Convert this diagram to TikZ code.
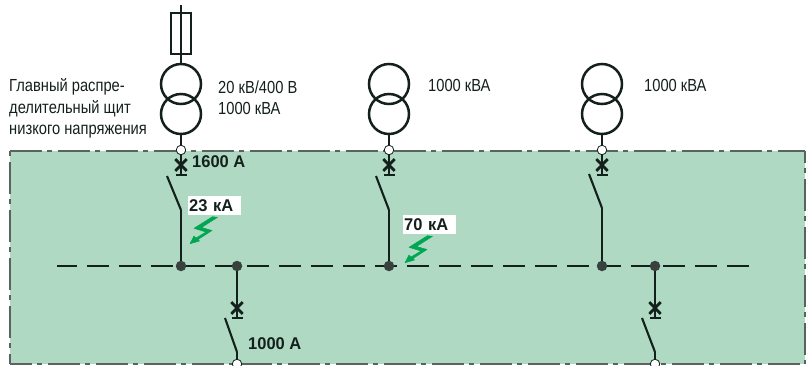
\documentclass[tikz,border=0pt]{standalone}
\usepackage{fontspec}
\setmainfont[FakeStretch=0.84, BoldFeatures={FakeStretch=0.97}]{Liberation Sans}
\usetikzlibrary{shapes.misc}
\definecolor{panelgreen}{HTML}{B0D9C4}
\definecolor{flashgreen}{HTML}{00A651}
\definecolor{linedark}{HTML}{14201C}
\tikzset{
  bus dot/.style={circle, fill=linedark!85, inner sep=0pt, minimum size=10.5pt},
  open dot/.style={circle, draw=linedark, fill=white, line width=0.8pt, inner sep=0pt, minimum size=9.5pt},
  trip cross/.style={cross out, draw=linedark, line width=2.8pt, inner sep=0pt, minimum width=8.5pt, minimum height=9pt},
  trip bar/.style={rectangle, fill=linedark, inner sep=0pt, minimum width=11pt, minimum height=2.6pt},
  wire/.style={draw=linedark, line width=2.5pt},
  blade/.style={draw=linedark, line width=2.1pt},
  winding/.style={circle, draw=linedark, line width=2.5pt, inner sep=0pt, minimum size=40pt},
  rating/.style={font=\fontsize{17}{21.5}\selectfont\bfseries, inner sep=0pt, anchor=west, text=linedark},
  isc box/.style={rating, fill=white, text width=51pt, align=left, minimum height=19pt, inner xsep=1pt},
  note/.style={font=\fontsize{17.5}{21.5}\selectfont, inner sep=0pt, anchor=west, align=left, text=linedark},
  frame/.style={draw=linedark!70, line width=1.3pt, dash pattern=on 32pt off 5pt on 5pt off 6pt},
  flash/.style={fill=flashgreen, draw=flashgreen, line width=0.5pt, line join=round},
}
\begin{document}
\begin{tikzpicture}[x=1pt, y=-1pt]
      \useasboundingbox (0,0) rectangle (811,365);

      \path[fill=panelgreen] (10,151) rectangle (805,364);
      \draw[frame] (10,151) -- (805,151);
      \draw[frame, dash phase=37pt] (10,151) -- (10,364);
      \draw[frame, dash phase=20pt] (805,151) -- (805,364);
      \draw[frame, dash phase=10pt] (10,364) -- (805,364);

      % fuse
      \coordinate (top) at (181,5);
      \node[draw=linedark, line width=2.5pt, minimum width=20pt, minimum height=41pt, inner sep=0pt] (fuse) at (181,33.5) {};

      % transformers
      \node[winding] (t1a) at (181,84)  {};
      \node[winding] (t1b) at (181,114) {};
      \node[winding] (t2a) at (389,84)  {};
      \node[winding] (t2b) at (389,114) {};
      \node[winding] (t3a) at (602,84)  {};
      \node[winding] (t3b) at (602,114) {};

      \node[trip cross] (x1) at (181,165) {};
      \node[trip cross] (x2) at (389,165) {};
      \node[trip cross] (x3) at (602,165) {};
      \node[trip cross] (x4) at (237,308) {};
      \node[trip cross] (x5) at (655,308) {};

      \node[trip bar] (b1) at (181,175) {};
      \node[trip bar] (b2) at (389,175) {};
      \node[trip bar] (b3) at (602,175) {};
      \node[trip bar] (b4) at (237,318) {};
      \node[trip bar] (b5) at (655,318) {};

      \coordinate (s1a) at (167,176);
      \coordinate (s1b) at (181,210);
      \coordinate (s2a) at (376,176);
      \coordinate (s2b) at (389,210);
      \coordinate (s3a) at (589,174);
      \coordinate (s3b) at (602,208);
      \coordinate (s4a) at (225,318);
      \coordinate (s4b) at (237,352);
      \coordinate (s5a) at (642,318);
      \coordinate (s5b) at (655,352);

      % bus
      \coordinate (busl) at (57,266);
      \coordinate (busr) at (749,266);
      \draw[draw=linedark, line width=2.5pt, dash pattern=on 22pt off 10pt, dash phase=2pt] (busl) -- (busr);

      \node[bus dot] (j1) at (181,266) {};
      \node[bus dot] (j2) at (237,266) {};
      \node[bus dot] (j3) at (389,266) {};
      \node[bus dot] (j4) at (602,266) {};
      \node[bus dot] (j5) at (655,266) {};

      \draw[wire] (top) -- (fuse.north);
      \draw[wire] (fuse.north) -- (fuse.south);
      \draw[wire] (fuse.south) -- (t1a);

      \coordinate (e1) at (181,150);
      \coordinate (e2) at (389,150);
      \coordinate (e3) at (602,150);
      \draw[wire] (t1b) -- (e1);
      \draw[wire] (t2b) -- (e2);
      \draw[wire] (t3b) -- (e3);

      \node[open dot] (in1) at (e1) {};
      \node[open dot] (in2) at (e2) {};
      \node[open dot] (in3) at (e3) {};

      \draw[wire] (in1) -- (b1);
      \draw[wire] (in2) -- (b2);
      \draw[wire] (in3) -- (b3);

      \draw[blade] (s1a) -- (s1b);
      \draw[blade] (s2a) -- (s2b);
      \draw[blade] (s3a) -- (s3b);
      \draw[wire] (s1b) -- (j1);
      \draw[wire] (s2b) -- (j3);
      \draw[wire] (s3b) -- (j4);

      \draw[wire] (j2) -- (b4);
      \draw[wire] (j5) -- (b5);

      \node[open dot] (out1) at (237,364) {};
      \node[open dot] (out2) at (655,364) {};
      \draw[blade] (s4a) -- (s4b);
      \draw[blade] (s5a) -- (s5b);
      \draw[wire] (s4b) -- (out1);
      \draw[wire] (s5b) -- (out2);

      % labels
      \node[note] (main) at (9,108.5) {Главный распре-\\делительный щит\\низкого напряжения};
      \node[note] (ratinga) at (218,97.5) {20 кВ/400 В\\1000 кВА};
      \node[note] (ratingb) at (428,85) {1000 кВА};
      \node[note] (ratingc) at (644,85) {1000 кВА};
      \node[rating] (amp1) at (192,162) {1600 А};
      \node[rating] (amp2) at (248,344) {1000 А};

      \node[isc box] (isc1) at (188,205.5) {23 кА};
      \node[isc box] (isc2) at (403,224.5) {70 кА};

      \path[flash] (217.5,217.3) -- (212.5,216.7) -- (194,228.3) -- (206,232) -- (196,238) -- (194,236) -- (190,243.7) -- (199.5,241) -- (198,239.5) -- (212,230.5) -- (201.5,227.5) -- cycle;
      \path[flash] (432.5,236.3) -- (427.5,235.7) -- (409,247.3) -- (421,251) -- (411,257) -- (409,255) -- (405,262.7) -- (414.5,260) -- (413,258.5) -- (427,249.5) -- (416.5,246.5) -- cycle;
\end{tikzpicture}
\end{document}
